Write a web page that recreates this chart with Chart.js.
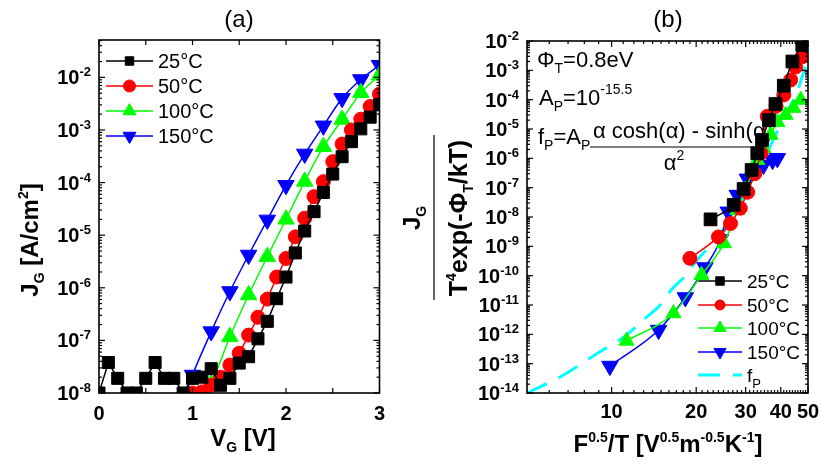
<!DOCTYPE html>
<html><head><meta charset="utf-8">
<script src="https://cdn.jsdelivr.net/npm/chart.js@4.4.0/dist/chart.umd.min.js"></script>
<style>
html,body{margin:0;padding:0;background:#fff;}
#wrap{position:relative;width:821px;height:465px;overflow:hidden;background:#fff;}
#ca{position:absolute;left:0;top:0;}
#cb{position:absolute;left:390px;top:0;}
</style></head><body>
<div id="wrap"><canvas id="ca" width="390" height="465"></canvas><canvas id="cb" width="431" height="465"></canvas></div>
<script>
// ---------------- Panel (a) data: J_G vs V_G ----------------
const seriesNames = ['25°C', '50°C', '100°C', '150°C'];
const aV25 = [0,0.1,0.2,0.3,0.4,0.5,0.6,0.7,0.8,0.9,1.0,1.1,1.2,1.3,1.4,1.5,1.6,1.7,1.8,1.9,2.0,2.1,2.2,2.3,2.4,2.5,2.6,2.7,2.8,2.9,3.0];
const aJ25 = [1.0e-8,3.8e-8,1.9e-8,1.0e-8,1.0e-8,1.9e-8,3.8e-8,1.9e-8,1.9e-8,1.0e-8,1.9e-8,2.0e-8,2.9e-8,1.4e-8,1.9e-8,3.7e-8,4.9e-8,1.07e-7,2.3e-7,6.2e-7,1.6e-6,4.6e-6,1.2e-5,2.8e-5,6.5e-5,1.45e-4,3.1e-4,6.0e-4,1.05e-3,1.75e-3,3.0e-3];
const aV50 = [0.9,1.0,1.1,1.2,1.3,1.4,1.5,1.6,1.7,1.8,1.9,2.0,2.1,2.2,2.3,2.4,2.5,2.6,2.7,2.8,2.9,3.0];
const aJ50 = [8e-9,1.0e-8,1.05e-8,1.4e-8,2.0e-8,3.4e-8,5.7e-8,1.26e-7,2.75e-7,6.1e-7,1.6e-6,3.6e-6,9.3e-6,2.1e-5,5.4e-5,1.04e-4,2.5e-4,5.4e-4,1.0e-3,1.6e-3,2.8e-3,4.8e-3];
const aV100 = [1.0,1.2,1.4,1.6,1.8,2.0,2.2,2.4,2.6,2.8,3.0];
const aJ100 = [4e-9,1.5e-8,1.17e-7,7.3e-7,3.9e-6,2.0e-5,1.05e-4,4.8e-4,1.58e-3,5.1e-3,1.1e-2];
const aV150 = [0.8,1.0,1.2,1.4,1.6,1.8,2.0,2.2,2.4,2.6,2.8,3.0];
const aJ150 = [2e-9,2.2e-8,1.47e-7,8.5e-7,4.2e-6,1.95e-5,8.9e-5,3.5e-4,1.2e-3,4.0e-3,9.1e-3,1.7e-2];
const aXTicks = [0,0.5,1,1.5,2,2.5,3];
const aXLabels = [0,1,2,3];
const aYDecades = [-8,-7,-6,-5,-4,-3,-2];

// ---------------- Panel (b) data: J_G/(T^4 exp(-Phi/kT)) vs F^0.5/T ----------------
const bX25 = [22.5,27.2,29.5,31.5,33.0,34.3,36.3,38.3,41.0,44.0,47.7];
const bY25 = [8.3e-9,2.6e-8,9e-8,4e-7,1.5e-6,4.2e-6,2.0e-5,7.1e-5,3.0e-4,2.0e-3,7.3e-3];
const bX50 = [19.0,24.0,26.5,28.7,30.5,32.3,34.0,35.8,38.5,41.0,43.4,45.2,47.7,49.0];
const bY50 = [3.9e-10,2.1e-9,6e-9,2.0e-8,7e-8,3e-7,1.5e-6,2.7e-5,6e-5,1.45e-4,4.7e-4,1.3e-3,2.9e-3,4.9e-3];
const bX100 = [11.3,16.6,20.9,25.1,28.0,29.9,31.7,33.0,34.7,36.8,38.9,41.6,44.4,47.1];
const bY100 = [6e-13,5.2e-12,1.05e-10,1.26e-9,1.7e-8,8.3e-8,3.4e-7,8.7e-7,2.2e-6,6.3e-6,1.7e-5,3.0e-5,5.2e-5,9.8e-5];
const bX150 = [9.86,14.7,18.3,21.5,24.4,26.0,28.0,30.4,32.5,34.7,37.4,38.9];
const bY150 = [8.3e-14,1.4e-12,1.8e-11,1.9e-10,1.7e-9,1.5e-8,5.6e-8,2.0e-7,4.0e-7,5.9e-7,8.7e-7,1.0e-6];
const bXfP = [5.0,6.65,8.94,11.3,13.2,14.9,16.4,18.0,19.5,21.2,23.4,26.0,28.0,30.4,34.7,39.9,45.9,50.0];
const bYfP = [1e-14,3.8e-14,2.3e-13,9.5e-13,3.6e-12,1e-11,3.5e-11,8.3e-11,2.3e-10,5.9e-10,1.66e-9,6.2e-9,1.74e-8,8.3e-8,8.7e-7,1.4e-5,2.1e-4,2.6e-3];
const bXMajor = [10,20,30,40,50];
const bXMinor = [6,7,8,9,11,12,13,14,15,16,17,18,19,21,22,23,24,25,26,27,28,29,31,32,33,34,35,36,37,38,39,41,42,43,44,45,46,47,48,49];
const bYDecades = [-14,-13,-12,-11,-10,-9,-8,-7,-6,-5,-4,-3,-2];

// ---------------- helpers ----------------
const SANS = "'Liberation Sans', Arial, Helvetica, sans-serif";
const NARROW = "'Liberation Sans Narrow', 'Liberation Sans', Arial, sans-serif";
const OFFB = 390; // page x of panel (b) canvas
function fnt(p){ return (p.b ? 'bold ' : '') + p.s + 'px ' + (p.f || SANS); }
function richW(ctx, parts){ let w = 0; for (const p of parts){ ctx.font = fnt(p); w += ctx.measureText(p.t).width; } return w; }
function drawRich(ctx, parts, x, y, align){
  const w = richW(ctx, parts);
  let cx = align === 'center' ? x - w/2 : (align === 'right' ? x - w : x);
  ctx.textAlign = 'left'; ctx.textBaseline = 'alphabetic';
  for (const p of parts){ ctx.font = fnt(p); ctx.fillText(p.t, cx, y + (p.dy || 0)); cx += ctx.measureText(p.t).width; }
  return w;
}
function drawRot(ctx, parts, bx, cy){
  ctx.save(); ctx.translate(bx, cy); ctx.rotate(-Math.PI/2); drawRich(ctx, parts, 0, 0, 'center'); ctx.restore();
}
function seg(ctx, x1, y1, x2, y2){ ctx.beginPath(); ctx.moveTo(x1, y1); ctx.lineTo(x2, y2); ctx.stroke(); }
function pow10Label(e){ return [{t:'10', s:20, b:true}, {t:String(e), s:13, b:true, dy:-8}]; }
function pts(xs, ys){ return xs.map((x, i) => ({x: x, y: ys[i]})); }

const colors = ['#000000', '#ff0000', '#00ff00', '#0000ff'];
const styles = ['rect', 'circle', 'triangle', 'triangle'];
const rots = [0, 0, 0, 180];

function legendItem(ctx, ds, x1, x2, y, mr, label, tx, fs){
  ctx.save();
  ctx.strokeStyle = ds.borderColor; ctx.lineWidth = ds.borderWidth;
  if (ds.borderDash) ctx.setLineDash(ds.borderDash);
  seg(ctx, x1, y, x2, y);
  ctx.setLineDash([]);
  if (ds.pointStyle && mr > 0){
    ctx.fillStyle = ds.backgroundColor; ctx.strokeStyle = ds.borderColor; ctx.lineWidth = 1;
    Chart.helpers.drawPoint(ctx, {pointStyle: ds.pointStyle, radius: mr, rotation: ds.pointRotation || 0, borderWidth: 1}, (x1 + x2)/2, y);
  }
  ctx.fillStyle = '#000';
  drawRich(ctx, label, tx, y + fs*0.36, 'left');
  ctx.restore();
}

// ---------------- Panel (a) ----------------
const aSets = [[aV25,aJ25],[aV50,aJ50],[aV100,aJ100],[aV150,aJ150]].map((d, i) => ({
  label: seriesNames[i], data: pts(d[0], d[1]),
  borderColor: colors[i], backgroundColor: colors[i], borderWidth: 1.5,
  pointStyle: styles[i], pointRotation: rots[i], pointBorderWidth: 1,
  pointRadius: [8.5, 7, 9.5, 9.5][i], tension: i >= 2 ? 0.25 : 0
}));

const decorA = {
  id: 'decorA',
  beforeDatasetsDraw(chart){
    const ctx = chart.ctx;
    const ys = [61, 86, 111, 136];
    const mr = [6, 6, 7.5, 7.5];
    chart.data.datasets.forEach((ds, i) => {
      legendItem(ctx, ds, 106, 153, ys[i], mr[i], [{t: ds.label, s: 20}], 158, 20);
    });
  },
  afterDraw(chart){
    const ctx = chart.ctx, ca = chart.chartArea, xs = chart.scales.x, ys = chart.scales.y;
    ctx.save();
    ctx.strokeStyle = '#000'; ctx.fillStyle = '#000';
    ctx.lineWidth = 1.2;
    for (const v of aXTicks){
      const px = xs.getPixelForValue(v);
      seg(ctx, px, ca.bottom, px, ca.bottom - 5);
      seg(ctx, px, ca.top, px, ca.top + 5);
    }
    for (const e of aYDecades.concat([-9])){
      for (let m = 1; m <= 9; m++){
        const v = m * Math.pow(10, e);
        if (v < ys.min * 0.999 || v > ys.max) continue;
        const py = ys.getPixelForValue(v);
        const len = m === 1 ? 6 : 3;
        seg(ctx, ca.left, py, ca.left + len, py);
        seg(ctx, ca.right, py, ca.right - len, py);
      }
    }
    ctx.lineWidth = 1.6;
    ctx.strokeRect(ca.left, ca.top, ca.right - ca.left, ca.bottom - ca.top);
    for (const v of aXLabels){
      drawRich(ctx, [{t: String(v), s: 20, b: true}], xs.getPixelForValue(v), 420, 'center');
    }
    for (const e of aYDecades){
      drawRich(ctx, pow10Label(e), ca.left - 8, ys.getPixelForValue(Math.pow(10, e)) + 7, 'right');
    }
    drawRich(ctx, [{t:'V', s:24, b:true}, {t:'G', s:14, b:true, dy:6}, {t:' [V]', s:24, b:true}], 243, 446, 'center');
    drawRot(ctx, [{t:'J', s:24, b:true}, {t:'G', s:14, b:true, dy:6}, {t:' [A/cm', s:24, b:true}, {t:'2', s:14, b:true, dy:-10}, {t:']', s:24, b:true}], 38, 240);
    drawRich(ctx, [{t:'(a)', s:24, f: NARROW}], 239, 27, 'center');
    ctx.restore();
  }
};

new Chart(document.getElementById('ca'), {
  type: 'line',
  data: {datasets: aSets},
  options: {
    responsive: false, animation: false, devicePixelRatio: 1,
    layout: {padding: {left: 99, right: 9, top: 40, bottom: 72}},
    plugins: {legend: {display: false}, tooltip: {enabled: false}},
    scales: {
      x: {type: 'linear', min: 0, max: 3, display: false},
      y: {type: 'logarithmic', min: 1e-8, max: 0.0513, display: false}
    }
  },
  plugins: [decorA]
});

// ---------------- Panel (b) ----------------
const bSets = [[bX25,bY25],[bX50,bY50],[bX100,bY100],[bX150,bY150]].map((d, i) => ({
  label: seriesNames[i], data: pts(d[0], d[1]),
  borderColor: colors[i], backgroundColor: colors[i], borderWidth: 1.5,
  pointStyle: styles[i], pointRotation: rots[i], pointBorderWidth: 1,
  pointRadius: [9, 7, 8.7, 9.5][i], cubicInterpolationMode: 'monotone'
}));
bSets.push({
  label: 'fP', data: pts(bXfP, bYfP), borderColor: '#00ffff', backgroundColor: '#00ffff',
  borderWidth: 3, borderDash: [22, 13], pointRadius: 0, pointStyle: false, cubicInterpolationMode: 'monotone'
});

const decorB = {
  id: 'decorB',
  beforeDatasetsDraw(chart){
    const ctx = chart.ctx;
    ctx.save(); ctx.translate(-OFFB, 0); ctx.fillStyle = '#000';
    // annotations (page coordinates)
    drawRich(ctx, [{t:'Φ', s:22}, {t:'T', s:14, dy:6}, {t:'=0.8eV', s:22}], 537, 67, 'left');
    drawRich(ctx, [{t:'A', s:22}, {t:'P', s:14, dy:6}, {t:'=10', s:22}, {t:'-15.5', s:14, dy:-11}], 539, 105, 'left');
    drawRich(ctx, [{t:'f', s:22}, {t:'P', s:14, dy:6}, {t:'=A', s:22}, {t:'P', s:14, dy:6}], 538, 144, 'left');
    drawRich(ctx, [{t:'α cosh(α) - sinh(α)', s:22}], 593, 138, 'left');
    ctx.strokeStyle = '#000'; ctx.lineWidth = 1;
    seg(ctx, 590, 147, 753, 147);
    drawRich(ctx, [{t:'α', s:22}, {t:'2', s:14, dy:-10}], 674, 170, 'center');
    // legend
    const ys = [281, 305, 328, 352];
    const mr = [6, 5, 7, 7];
    chart.data.datasets.forEach((ds, i) => {
      if (i < 4) legendItem(ctx, ds, 698, 742, ys[i], mr[i], [{t: ds.label, s: 19}], 747, 19);
    });
    legendItem(ctx, chart.data.datasets[4], 698, 742, 375, 0, [{t:'f', s:19}, {t:'P', s:13, dy:6}], 747, 19);
    ctx.restore();
  },
  afterDraw(chart){
    const ctx = chart.ctx, ca = chart.chartArea, xs = chart.scales.x, ys = chart.scales.y;
    ctx.save();
    ctx.strokeStyle = '#000'; ctx.fillStyle = '#000';
    ctx.lineWidth = 1.2;
    for (const v of bXMajor.concat(bXMinor)){
      const px = xs.getPixelForValue(v);
      const len = bXMajor.includes(v) ? 6 : 3;
      seg(ctx, px, ca.bottom, px, ca.bottom - len);
      seg(ctx, px, ca.top, px, ca.top + len);
    }
    for (const e of bYDecades){
      for (let m = 1; m <= 9; m++){
        const v = m * Math.pow(10, e);
        if (v > ys.max * 1.001) continue;
        const py = ys.getPixelForValue(v);
        const len = m === 1 ? 6 : 3;
        seg(ctx, ca.left, py, ca.left + len, py);
        seg(ctx, ca.right, py, ca.right - len, py);
      }
    }
    ctx.lineWidth = 1.6;
    ctx.strokeRect(ca.left, ca.top, ca.right - ca.left, ca.bottom - ca.top);
    for (const v of bXMajor){
      drawRich(ctx, [{t: String(v), s: 20, b: true}], xs.getPixelForValue(v), 418, 'center');
    }
    for (const e of bYDecades){
      drawRich(ctx, pow10Label(e), ca.left - 8, ys.getPixelForValue(Math.pow(10, e)) + 7, 'right');
    }
    ctx.translate(-OFFB, 0);
    drawRich(ctx, [{t:'F', s:24, b:true}, {t:'0.5', s:14, b:true, dy:-10}, {t:'/T [V', s:24, b:true}, {t:'0.5', s:14, b:true, dy:-10},
      {t:'m', s:24, b:true}, {t:'-0.5', s:14, b:true, dy:-10}, {t:'K', s:24, b:true}, {t:'-1', s:14, b:true, dy:-10}, {t:']', s:24, b:true}], 668, 452, 'center');
    // y title as fraction
    drawRot(ctx, [{t:'J', s:24, b:true}, {t:'G', s:14, b:true, dy:6}], 420, 218);
    ctx.lineWidth = 1.2;
    seg(ctx, 434, 135, 434, 300);
    drawRot(ctx, [{t:'T', s:25, b:true}, {t:'4', s:14, b:true, dy:-11}, {t:'exp(-Φ', s:25, b:true}, {t:'T', s:14, b:true, dy:6}, {t:'/kT)', s:25, b:true}], 467, 218);
    drawRich(ctx, [{t:'(b)', s:24, f: NARROW}], 668, 27, 'center');
    ctx.restore();
  }
};

new Chart(document.getElementById('cb'), {
  type: 'line',
  data: {datasets: bSets},
  options: {
    responsive: false, animation: false, devicePixelRatio: 1,
    layout: {padding: {left: 527 - OFFB, right: 821 - 808, top: 41, bottom: 72}},
    plugins: {legend: {display: false}, tooltip: {enabled: false}},
    scales: {
      x: {type: 'logarithmic', min: 5, max: 50, display: false},
      y: {type: 'logarithmic', min: 1e-14, max: 1e-2, display: false}
    }
  },
  plugins: [decorB]
});
</script>
</body></html>
